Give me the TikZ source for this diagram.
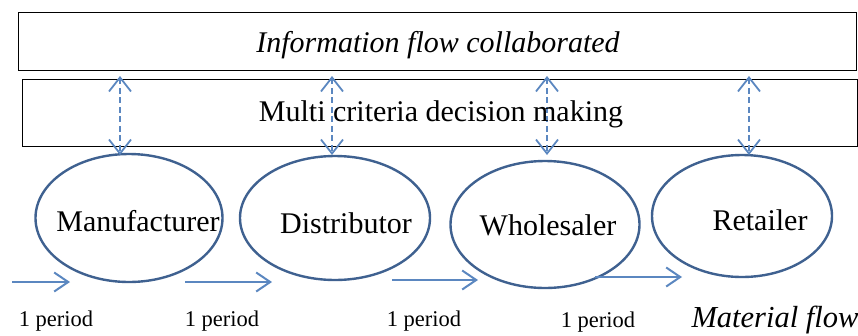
\documentclass[tikz,border=0pt]{standalone}
\usepackage{fontspec}
\setmainfont{Liberation Serif}
\usetikzlibrary{arrows.meta,shapes.geometric}
\definecolor{ellblue}{HTML}{3F6190}
\definecolor{arrblue}{HTML}{5B87C0}
\begin{document}
\begin{tikzpicture}[x=1pt,y=-1pt,
  box/.style={draw=black, line width=1.4pt},
  actor/.style={draw=ellblue, line width=2.4pt, ellipse, inner sep=0pt},
  bigtxt/.style={inner sep=0pt, anchor=base, font=\fontsize{30}{35}\selectfont},
  smalltxt/.style={inner sep=0pt, anchor=base, font=\fontsize{22.5}{26}\selectfont},
  infoarrow/.style={draw=arrblue, line width=1.8pt, dash pattern=on 6pt off 3.5pt,
     {Straight Barb[length=14pt,width=22pt,line width=1.8pt,sep=0pt]}-{Straight Barb[length=14pt,width=22pt,line width=1.8pt]}},
  flowarrow/.style={draw=arrblue, line width=2pt,
     -{Straight Barb[length=14pt,width=19pt,line width=2pt]}}
]
\useasboundingbox (0,0) rectangle (858,335);
% boxes
\node[box, minimum width=838pt, minimum height=58pt, anchor=north west] (info) at (18,12) {};
\node[box, minimum width=835pt, minimum height=67pt, anchor=north west] (mcdm) at (22,79) {};
\node[bigtxt, font=\fontsize{30}{35}\selectfont\itshape] (infot) at (438,52) {Information flow collaborated};
% ellipses
\node[actor, minimum width=187pt, minimum height=128pt] (man) at (129,218) {};
\node[actor, minimum width=190pt, minimum height=124pt] (dis) at (335,218) {};
\node[actor, minimum width=189pt, minimum height=127pt] (who) at (545,224.5) {};
\node[actor, minimum width=180pt, minimum height=122pt] (ret) at (742,216) {};
% dashed arrows
\coordinate (a1) at (120,76); \coordinate (b1) at (120,155);
\coordinate (a2) at (332,76); \coordinate (b2) at (332,155);
\coordinate (a3) at (547,76); \coordinate (b3) at (547,155);
\coordinate (a4) at (749,76); \coordinate (b4) at (749,155);
\draw[infoarrow] (a1) -- (b1);
\draw[infoarrow] (a2) -- (b2);
\draw[infoarrow] (a3) -- (b3);
\draw[infoarrow] (a4) -- (b4);
\node[bigtxt] (mcdmt) at (441,121) {Multi criteria decision making};
% actor labels
\node[bigtxt] (mant) at (138,231) {Manufacturer};
\node[bigtxt] (dist) at (346,233) {Distributor};
\node[bigtxt] (whot) at (548,235) {Wholesaler};
\node[bigtxt] (rett) at (760,230) {Retailer};
% material flow arrows
\coordinate (f1s) at (12,282); \coordinate (f1e) at (70,282);
\coordinate (f2s) at (185,282); \coordinate (f2e) at (272,282);
\coordinate (f3s) at (392,280); \coordinate (f3e) at (478,280);
\coordinate (f4s) at (595,277); \coordinate (f4e) at (682,277);
\draw[flowarrow] (f1s) -- (f1e);
\draw[flowarrow] (f2s) -- (f2e);
\draw[flowarrow] (f3s) -- (f3e);
\draw[flowarrow] (f4s) -- (f4e);
% period labels
\node[smalltxt] (p1) at (56,326) {1 period};
\node[smalltxt] (p2) at (222,326) {1 period};
\node[smalltxt] (p3) at (424,326) {1 period};
\node[smalltxt] (p4) at (598,327) {1 period};
\node[bigtxt, font=\fontsize{30.5}{35}\selectfont\itshape] (mat) at (775,327) {Material flow};
\end{tikzpicture}
\end{document}
